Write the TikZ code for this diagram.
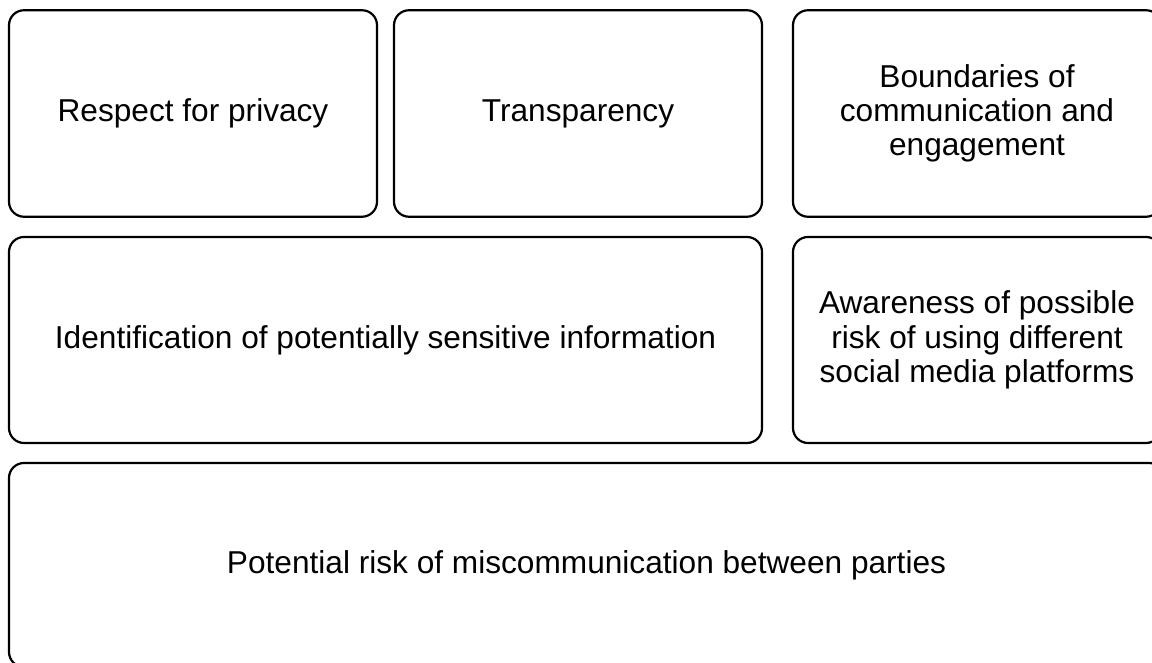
\documentclass[tikz,border=0pt]{standalone}
\usepackage{fontspec}
\setmainfont{Liberation Sans}
\usetikzlibrary{positioning}
\tikzset{topic/.style={draw, line width=1.25pt, rounded corners=0.3cm, align=center,
  inner sep=0pt, minimum height=4.13cm, font=\fontsize{18}{19.5}\selectfont}}

\begin{document}
\begin{tikzpicture}
\useasboundingbox (0,0) rectangle (23.04,13.26);
\node[topic, minimum width=7.36cm] (privacy) at (3.86,10.99) {Respect for privacy};
\node[topic, minimum width=7.36cm] (transp) at (11.56,10.99) {Transparency};
\node[topic, minimum width=7.36cm] (bounds) at (19.54,10.99) {Boundaries of\\communication and\\engagement};
\node[topic, minimum width=15.06cm, minimum height=4.12cm] (ident) at (7.71,6.46) {Identification of potentially sensitive information};
\node[topic, minimum width=7.36cm, minimum height=4.12cm] (aware) at (19.54,6.46) {Awareness of possible\\risk of using different\\social media platforms};
\node[topic, minimum width=23.1cm, minimum height=4.08cm] (miscomm) at (11.73,1.96) {Potential risk of miscommunication between parties};
\end{tikzpicture}
\end{document}
